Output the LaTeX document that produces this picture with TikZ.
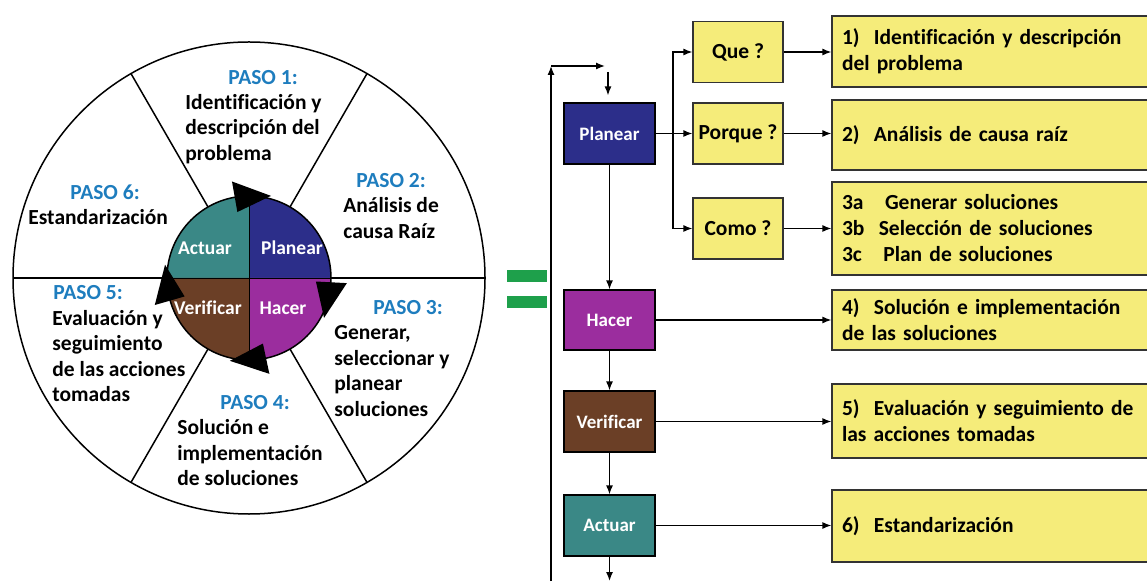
\documentclass[tikz,border=0pt]{standalone}
\usepackage{fontspec}
\setmainfont{Carlito}[Ligatures=NoCommon]
\usetikzlibrary{arrows.meta}

\definecolor{planc}{RGB}{44,46,138}
\definecolor{hacc}{RGB}{155,45,158}
\definecolor{verc}{RGB}{107,63,38}
\definecolor{actc}{RGB}{58,136,134}
\definecolor{boxyel}{RGB}{245,236,122}
\definecolor{pasoblue}{RGB}{30,125,190}
\definecolor{eqgreen}{RGB}{30,160,75}

\begin{document}
\begin{tikzpicture}[x=1pt, y=1pt, thick,
  pdca/.style={draw=black, line width=1.2pt, minimum width=91pt, minimum height=61pt,
    text=white, font=\fontsize{19}{22}\selectfont\bfseries},
  qbox/.style={draw=black!80, fill=boxyel, line width=1.2pt, minimum width=90pt,
    minimum height=61pt, font=\fontsize{21.5}{25}\selectfont\bfseries},
  rbox/.style={draw=black!80, fill=boxyel, line width=1.2pt, text width=300pt,
    inner xsep=10pt, align=left, font=\fontsize{21.5}{26}\selectfont\bfseries},
  paso/.style={text=pasoblue, inner sep=0pt, font=\fontsize{21.5}{25}\selectfont\bfseries},
  txt/.style={align=left, inner sep=0pt, font=\fontsize{21.5}{25.5}\selectfont\bfseries},
  mid/.style={text=white, inner sep=0pt, font=\fontsize{19.5}{22}\selectfont\bfseries},
  arr/.style={-{Latex[length=9pt,width=7pt]}, line width=1.3pt},
]
  \useasboundingbox (0,0) rectangle (1147,581);
  \clip (0,0) rectangle (1147,581);

  % rueda
  \coordinate (C) at (249,303);
  \begin{scope}[shift={(C)}]
    \draw[line width=1.5pt] (0,0) circle (236pt);
    \foreach \a in {0,60,...,300}
      \draw[line width=1.5pt] (\a:82pt) -- (\a:236pt);
    \fill[planc] (0,0) -- (0:82pt) arc[start angle=0, end angle=90, radius=82pt] -- cycle;
    \fill[actc] (0,0) -- (90:82pt) arc[start angle=90, end angle=180, radius=82pt] -- cycle;
    \fill[verc] (0,0) -- (180:82pt) arc[start angle=180, end angle=270, radius=82pt] -- cycle;
    \fill[hacc] (0,0) -- (270:82pt) arc[start angle=270, end angle=360, radius=82pt] -- cycle;
    \draw (0,-82pt) -- (0,82pt);
    \draw (-82pt,0) -- (82pt,0);
    \draw[line width=1.5pt] (0,0) circle (82pt);
    % flechas del ciclo
    \foreach \a in {100,-3,-78,196}
      \fill (\a:67pt) -- (\a:98pt) -- (\a-25:85pt) -- cycle;
  \end{scope}

  \node[mid] (mA) at (205,333) {Actuar};
  \node[mid] (mP) at (292,333) {Planear};
  \node[mid] (mV) at (208,273) {Verificar};
  \node[mid] (mH) at (283,273) {Hacer};

  \node[paso] (p1) at (263,503) {PASO 1:};
  \node[txt, anchor=west] (t1) at (185,452) {Identificación y\\descripción del\\problema};
  \node[paso] (p2) at (391,400) {PASO 2:};
  \node[txt, anchor=west] (t2) at (343,363) {Análisis de\\causa Raíz};
  \node[paso, anchor=west] (p3) at (373,273) {PASO 3:};
  \node[txt, anchor=west] (t3) at (334,210) {Generar,\\seleccionar y\\planear\\soluciones};
  \node[paso] (p4) at (255,178) {PASO 4:};
  \node[txt, anchor=west] (t4) at (177,128) {Solución e\\implementación\\de soluciones};
  \node[paso, anchor=west] (p5) at (53,288) {PASO 5:};
  \node[txt, anchor=west] (t5) at (52,225) {Evaluación y\\seguimiento\\de las acciones\\tomadas};
  \node[paso] (p6) at (105,389) {PASO 6:};
  \node[txt, anchor=west] (t6) at (28,364) {Estandarización};

  % signo igual
  \fill[eqgreen] (507,299) rectangle (547,311);
  \fill[eqgreen] (507,273) rectangle (547,285);

  % columna PDCA
  \node[pdca, fill=planc] (plan) at (609.5,447.5) {Planear};
  \node[pdca, fill=hacc, minimum height=60pt] (hacer) at (609.5,261) {Hacer};
  \node[pdca, fill=verc] (verif) at (609.5,159.5) {Verificar};
  \node[pdca, fill=actc] (actuar) at (609.5,55.5) {Actuar};

  \node[qbox] (que) at (738,529) {Que ?};
  \node[qbox] (porque) at (738,447.5) {Porque ?};
  \node[qbox] (como) at (738,352.5) {Como ?};

  \node[rbox, minimum height=71pt] (r1) at (992,529.5) {1)\ \ Identificación y descripción\\del problema};
  \node[rbox, minimum height=70pt] (r2) at (992,446) {2)\ \ Análisis de causa raíz};
  \node[rbox, minimum height=93pt] (r3) at (992,352.5) {3a\ \ \ Generar soluciones\\3b\ \ Selección de soluciones\\3c\ \ \ Plan de soluciones};
  \node[rbox, minimum height=60pt] (r4) at (992,261) {4)\ \ Solución e implementación\\de las soluciones};
  \node[rbox, minimum height=74pt] (r5) at (992,160) {5)\ \ Evaluación y seguimiento de\\las acciones tomadas};
  \node[rbox, minimum height=72pt] (r6) at (992,55) {6)\ \ Estandarización};

  % retorno del ciclo
  \coordinate (fbBot) at (551,0);
  \coordinate (fbTop) at (551,515);
  \coordinate (fbEnd) at (605,515);
  \coordinate (inTop) at (608,509);
  \coordinate (outBot) at (610,0);
  \draw[arr] (fbBot) -- (fbTop);
  \draw[arr] (fbTop) -- (fbEnd);
  \draw[arr, shorten >=7pt] (inTop) -- (inTop |- plan.north);

  \draw[arr] (plan) -- (hacer);
  \draw[arr] (hacer) -- (verif);
  \draw[arr] (verif) -- (actuar);
  \draw[arr] (actuar.south) -- (actuar.south |- outBot);

  % ramas de Planear
  \coordinate (split) at (673,447.5);
  \draw[arr] (plan.east) -- (porque.west);
  \draw[arr] (split) |- (que.west);
  \draw[arr] (split) |- (como.west);

  \draw[arr] (que.east) -- (que.east -| r1.west);
  \draw[arr] (porque.east) -- (porque.east -| r2.west);
  \draw[arr] (como.east) -- (como.east -| r3.west);
  \draw[arr] (hacer.east) -- (hacer.east -| r4.west);
  \draw[arr] (verif.east) -- (verif.east -| r5.west);
  \draw[arr] (actuar.east) -- (actuar.east -| r6.west);
\end{tikzpicture}
\end{document}
